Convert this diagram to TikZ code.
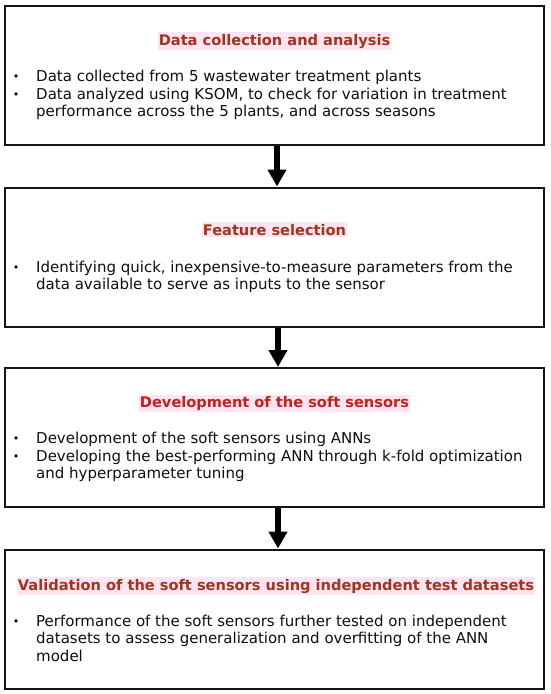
\documentclass[tikz,border=0pt]{standalone}
\usepackage{fontspec}
\setmainfont{DejaVu Sans}
\usetikzlibrary{arrows.meta}
\definecolor{titlered}{RGB}{163,52,26}
\definecolor{titlered2}{RGB}{196,32,28}
\definecolor{titlebg}{RGB}{252,228,242}
\definecolor{boxline}{RGB}{20,20,20}
\definecolor{bodytext}{RGB}{15,15,15}
\tikzset{
  stepbox/.style={draw=boxline, line width=2pt, fill=white, minimum width=539pt, minimum height=139pt, inner sep=0pt},
  titletext/.style={font=\fontsize{14.6}{17}\selectfont\bfseries, text=titlered, fill=titlebg, inner xsep=1pt, inner ysep=1.5pt, anchor=base},
  bodyline/.style={font=\fontsize{15}{17.5}\selectfont, text=bodytext, anchor=base west, inner sep=0pt},
  bulletmark/.style={font=\fontsize{11}{12}\selectfont, text=bodytext, anchor=base, inner sep=0pt},
  flowarrow/.style={line width=6pt, draw=black, -{Triangle[width=18pt,length=17pt]}}
}
\begin{document}
\begin{tikzpicture}[x=1pt,y=-1pt]
\useasboundingbox (0,0) rectangle (550,694);
\fill[white] (0,0) rectangle (550,694);
% boxes
\node[stepbox] (b1) at (274.5,75.25) {};
\node[stepbox] (b2) at (274.5,257) {};
\node[stepbox] (b3) at (274.5,437.5) {};
\node[stepbox] (b4) at (274.5,619) {};
% arrows
\draw[flowarrow] ([xshift=2.5pt]b1.south) -- ([xshift=2.5pt]b2.north);
\draw[flowarrow] ([xshift=3.5pt]b2.south) -- ([xshift=3.5pt]b3.north);
\draw[flowarrow] ([xshift=3.5pt]b3.south) -- ([xshift=3.5pt]b4.north);
% box 1
\node[titletext] (t1) at (274.5,45) {Data collection and analysis};
\node[bulletmark] (p1a) at (16,80) {•};
\node[bodyline] (l1a) at (36,81) {Data collected from 5 wastewater treatment plants};
\node[bulletmark] (p1b) at (16,98) {•};
\node[bodyline] (l1b) at (36,99) {Data analyzed using KSOM, to check for variation in treatment};
\node[bodyline] (l1c) at (36,116) {performance across the 5 plants, and across seasons};
% box 2
\node[titletext] (t2) at (274.5,235) {Feature selection};
\node[bulletmark] (p2a) at (16,271.5) {•};
\node[bodyline] (l2a) at (36,272.5) {Identifying quick, inexpensive-to-measure parameters from the};
\node[bodyline] (l2b) at (36,289.5) {data available to serve as inputs to the sensor};
% box 3
\node[titletext, text=titlered2] (t3) at (274.5,407.3) {Development of the soft sensors};
\node[bulletmark] (p3a) at (16,442.3) {•};
\node[bodyline] (l3a) at (36,443.3) {Development of the soft sensors using ANNs};
\node[bulletmark] (p3b) at (16,460) {•};
\node[bodyline] (l3b) at (36,461) {Developing the best-performing ANN through k-fold optimization};
\node[bodyline] (l3c) at (36,478.5) {and hyperparameter tuning};
% box 4
\node[titletext] (t4) at (276,590) {Validation of the soft sensors using independent test datasets};
\node[bulletmark] (p4a) at (16,625) {•};
\node[bodyline] (l4a) at (36,626) {Performance of the soft sensors further tested on independent};
\node[bodyline] (l4b) at (36,643.3) {datasets to assess generalization and overfitting of the ANN};
\node[bodyline] (l4c) at (36,661) {model};
\end{tikzpicture}
\end{document}
